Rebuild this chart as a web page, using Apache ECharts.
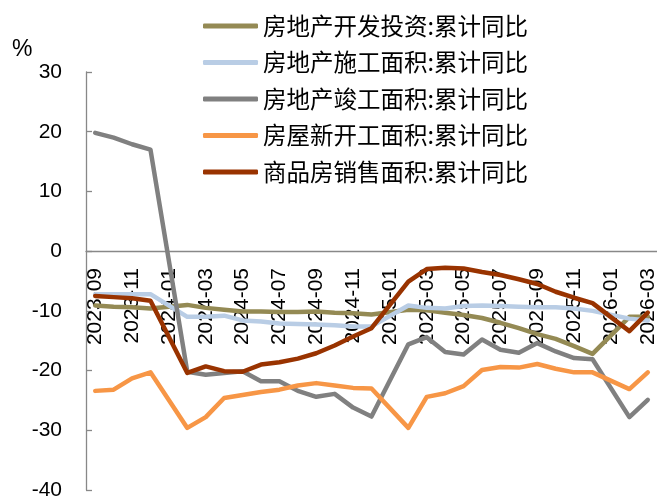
<!DOCTYPE html>
<html>
<head>
<meta charset="utf-8">
<script src="https://cdn.jsdelivr.net/npm/echarts@6/dist/echarts.min.js"></script>
<style>
  html, body { margin: 0; padding: 0; background: #fff; }
  #main { width: 657px; height: 497px; }
</style>
</head>
<body>
<div id="main"></div>
<script>
// 月份（1月无数据，与2月合并发布）
const months = ['2023-09', '2023-10', '2023-11', '2023-12', '2024-01', '2024-02', '2024-03', '2024-04',
  '2024-05', '2024-06', '2024-07', '2024-08', '2024-09', '2024-10', '2024-11', '2024-12',
  '2025-01', '2025-02', '2025-03', '2025-04', '2025-05', '2025-06', '2025-07', '2025-08',
  '2025-09', '2025-10', '2025-11', '2025-12', '2026-01', '2026-02', '2026-03'];

const invest = [-9.1, -9.3, -9.4, -9.6, null, -9.0, -9.5, -9.8, -10.1, -10.1, -10.2, -10.2, -10.1, -10.3, -10.4, -10.6,
  null, -9.8, -9.9, -10.3, -10.7, -11.2, -12.0, -12.9, -13.9, -14.7, -15.9, -17.2, null, -11.0, -11.0];
const construction = [-7.2, -7.2, -7.2, -7.2, null, -11.0, -11.0, -10.8, -11.6, -11.8, -12.1, -12.2, -12.3, -12.4, -12.6, -12.6,
  null, -9.1, -9.5, -9.6, -9.2, -9.1, -9.2, -9.3, -9.4, -9.4, -9.6, -10.0, null, -11.3, -11.6];
const completion = [19.8, 19.0, 17.9, 17.0, null, -20.2, -20.7, -20.4, -20.1, -21.8, -21.8, -23.4, -24.4, -23.9, -26.2, -27.7,
  null, -15.6, -14.4, -16.9, -17.3, -14.8, -16.5, -17.0, -15.4, -16.8, -17.9, -18.1, null, -27.8, -24.9];
const starts = [-23.4, -23.2, -21.3, -20.3, null, -29.6, -27.8, -24.6, -24.1, -23.6, -23.2, -22.5, -22.1, -22.5, -22.9, -23.0,
  null, -29.6, -24.4, -23.8, -22.6, -19.9, -19.4, -19.5, -18.9, -19.7, -20.3, -20.3, null, -23.1, -20.3];
const sales = [-7.5, -7.7, -7.9, -8.3, null, -20.4, -19.3, -20.1, -20.2, -19.0, -18.6, -18.0, -17.1, -15.8, -14.3, -12.9,
  null, -5.1, -3.0, -2.8, -2.9, -3.5, -4.0, -4.7, -5.5, -6.8, -7.8, -8.7, null, -13.4, -10.3];

const names = ['房地产开发投资:累计同比', '房地产施工面积:累计同比', '房地产竣工面积:累计同比', '房屋新开工面积:累计同比', '商品房销售面积:累计同比'];
const colors = ['#948a54', '#b9cde5', '#808080', '#f79646', '#993300'];
const values = [invest, construction, completion, starts, sales];

const myChart = echarts.init(document.getElementById('main'));

const option = {
  animation: false,
  color: colors,
  textStyle: { fontFamily: 'Liberation Sans, Arial, sans-serif' },
  grid: {
    left: 86,
    right: 0,
    top: 72,
    bottom: 7,
    outerBoundsMode: 'none'
  },
  legend: {
    orient: 'vertical',
    left: 198,
    top: 9,
    itemWidth: 55,
    itemHeight: 5,
    itemGap: 12.5,
    icon: 'roundRect',
    textStyle: {
      fontFamily: 'Noto Sans CJK SC',
      fontSize: 23.5,
      lineHeight: 24,
      color: '#000'
    },
    data: names
  },
  graphic: [
    {
      type: 'text',
      left: 12,
      top: 38,
      style: { text: '%', font: '23px Liberation Sans, Arial', fill: '#000' }
    }
  ],
  xAxis: {
    type: 'category',
    data: months,
    boundaryGap: true,
    position: 'bottom',
    // 把横轴抬到 0 刻度处（-40..30 区间里 0 距底部 40/70）
    offset: -239,
    axisLine: { onZero: false, lineStyle: { color: '#888', width: 1.3 } },
    axisTick: { inside: true, length: 6, interval: 1, lineStyle: { color: '#888', width: 1.3 } },
    axisLabel: {
      interval: 1,
      rotate: 90,
      margin: 17,
      fontSize: 21,
      color: '#000'
    },
    splitLine: { show: false }
  },
  yAxis: {
    type: 'value',
    min: -40,
    max: 30,
    interval: 10,
    axisLine: { show: true, lineStyle: { color: '#888', width: 1.3 } },
    axisTick: { show: true, inside: true, length: 6, lineStyle: { color: '#888', width: 1.3 } },
    axisLabel: { margin: 24, fontSize: 21, color: '#000' },
    splitLine: { show: false }
  },
  series: names.map((n, i) => ({
    name: n,
    type: 'line',
    data: values[i],
    connectNulls: true,
    symbol: 'none',
    lineStyle: { width: 4.5, color: colors[i], cap: 'round', join: 'round' }
  }))
};

option && myChart.setOption(option);
</script>
</body>
</html>
